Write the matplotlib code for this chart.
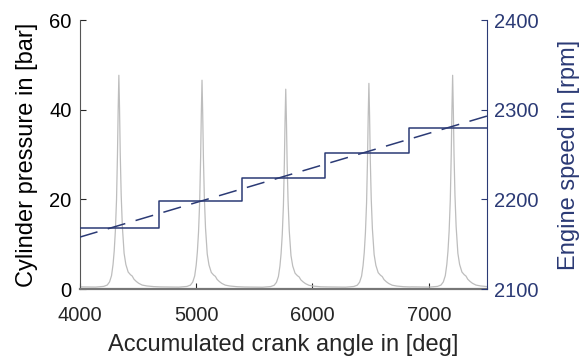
import matplotlib.pyplot as plt
import numpy as np

plt.rcParams['font.family'] = ['Liberation Sans', 'DejaVu Sans']
plt.rcParams['font.size'] = 14.5

# cylinder pressure: one cycle shape (offset deg, bar)
cycle_offset = [-355, -200, -130, -100, -80, -63, -50, -40, -30, -20, -12, -6, 0,
                6, 12, 20, 30, 45, 60, 80, 100, 115, 130, 150, 170, 200, 240, 300, 355]
cycle_pressure = [0.5, 0.45, 0.6, 0.9, 1.6, 3.0, 5.5, 8.5, 13, 20, 30, 40, 47.7,
                  40, 30, 21, 14, 8, 5.5, 3.8, 3.2, 2.9, 2.2, 1.7, 1.3, 0.9, 0.7, 0.55, 0.5]
peak_angle = [4335, 5050, 5770, 6485, 7205]
peak_pressure = [47.7, 46.6, 44.6, 45.9, 47.7]

# engine speed per cycle (steps) and linear trend
step_angle = [4000, 4680, 5395, 6110, 6827, 7500]
step_speed = [2168, 2198, 2224, 2252, 2280, 2280]
trend_angle = [4000, 7500]
trend_speed = [2158, 2293]

navy = '#2b3a75'
gray_txt = '#262626'

angle = []
pressure = []
for pa, pp in zip(peak_angle, peak_pressure):
    for o, p in zip(cycle_offset, cycle_pressure):
        angle.append(pa + o)
        pressure.append(p * pp / cycle_pressure[12])

fig = plt.figure(figsize=(5.79, 3.6), dpi=100)
ax = fig.add_axes([0.138, 0.197, 0.703, 0.747])
ax.plot(angle, pressure, color='#bdbdbd', lw=0.9)
ax.set_xlim(4000, 7500)
ax.set_ylim(0, 60)
ax.set_xticks([4000, 5000, 6000, 7000])
ax.set_yticks([0, 20, 40, 60])
ax.set_xlabel('Accumulated crank angle in [deg]', color=gray_txt, fontsize=17, labelpad=7)
ax.set_ylabel('Cylinder pressure in [bar]', color='black', fontsize=17, labelpad=8)
ax.tick_params(direction='in', length=4, colors=gray_txt, labelcolor='black')
ax.tick_params(axis='x', labelcolor=gray_txt, pad=12)
ax.tick_params(axis='y', pad=6)
for s in ['top', 'right']:
    ax.spines[s].set_visible(False)
ax.spines['left'].set_color('#555555')
ax.spines['bottom'].set_color('#777777')
ax.spines['bottom'].set_linewidth(1.6)

ax2 = ax.twinx()
ax2.step(step_angle, step_speed, where='post', color=navy, lw=1.1)
ax2.plot(trend_angle, trend_speed, color=navy, lw=1.1, dashes=(12, 7))
ax2.set_ylim(2100, 2400)
ax2.set_yticks([2100, 2200, 2300, 2400])
ax2.set_ylabel('Engine speed in [rpm]', color=navy, fontsize=17, labelpad=14)
ax2.tick_params(direction='in', length=4, colors=navy, pad=5)
for s in ['top', 'left', 'bottom']:
    ax2.spines[s].set_visible(False)
ax2.spines['right'].set_color(navy)

plt.savefig('out.png', dpi=100)
